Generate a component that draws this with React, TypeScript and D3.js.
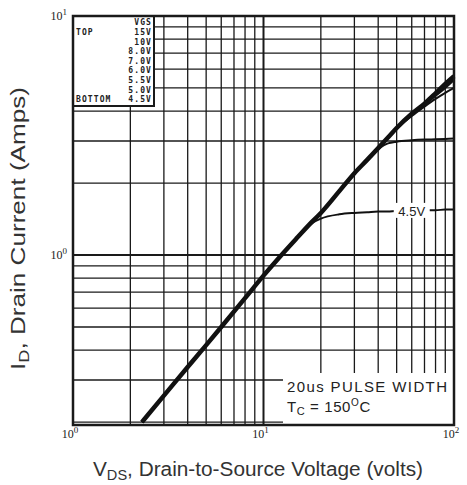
import * as d3 from "d3"
import React from "react"

// drain-source voltage sample points (volts)
const vds = [2.3, 3, 4, 5, 6, 8, 10, 12, 15, 18, 20, 25, 30, 35, 40, 45, 50, 60, 70, 80, 90, 100]

// drain current (amps) per gate voltage
const id15 = [0.2, 0.258, 0.34, 0.42, 0.5, 0.66, 0.82, 0.97, 1.18, 1.38, 1.5, 1.85, 2.2, 2.5, 2.8, 3.1, 3.4, 3.9, 4.3, 4.75, 5.2, 5.6]
const id10 = [0.2, 0.258, 0.34, 0.42, 0.5, 0.66, 0.82, 0.97, 1.18, 1.38, 1.5, 1.85, 2.2, 2.5, 2.8, 3.1, 3.4, 3.9, 4.3, 4.72, 5.15, 5.55]
const id8 = [0.2, 0.258, 0.34, 0.42, 0.5, 0.66, 0.82, 0.97, 1.18, 1.38, 1.5, 1.85, 2.2, 2.5, 2.8, 3.1, 3.4, 3.88, 4.28, 4.7, 5.1, 5.5]
const id7 = [0.2, 0.258, 0.34, 0.42, 0.5, 0.66, 0.82, 0.97, 1.18, 1.38, 1.5, 1.85, 2.2, 2.5, 2.8, 3.1, 3.4, 3.87, 4.27, 4.67, 5.05, 5.45]
const id6 = [0.2, 0.258, 0.34, 0.42, 0.5, 0.66, 0.82, 0.97, 1.18, 1.38, 1.5, 1.85, 2.2, 2.5, 2.8, 3.1, 3.4, 3.86, 4.25, 4.63, 5.0, 5.4]
const id55 = [0.2, 0.258, 0.34, 0.42, 0.5, 0.66, 0.82, 0.97, 1.18, 1.38, 1.5, 1.85, 2.2, 2.5, 2.8, 3.1, 3.38, 3.82, 4.18, 4.5, 4.77, 5.0]
const id50 = [0.2, 0.258, 0.34, 0.42, 0.5, 0.66, 0.82, 0.97, 1.18, 1.38, 1.5, 1.85, 2.2, 2.5, 2.78, 2.93, 2.98, 3.02, 3.04, 3.05, 3.06, 3.07]
const id45 = [0.2, 0.258, 0.34, 0.42, 0.5, 0.66, 0.82, 0.97, 1.18, 1.36, 1.42, 1.48, 1.5, 1.51, 1.52, 1.52, 1.53, 1.53, 1.54, 1.54, 1.55, 1.55]

const vgsLabels = ["15V", "10V", "8.0V", "7.0V", "6.0V", "5.5V", "5.0V", "4.5V"]
const series = [id15, id10, id8, id7, id6, id55, id50, id45]

const W = 467
const H = 485
const left = 73, right = 454, top = 16, bottom = 425

export default function App() {
  const x = d3.scaleLog().domain([1, 100]).range([left, right])
  const y = d3.scaleLog().domain([0.1945, 10]).range([bottom, top])

  const line = d3.line<number>()
    .x((d, i) => x(vds[i]))
    .y(d => y(d))
    .curve(d3.curveMonotoneX)

  const xTicks = x.ticks()
  const yTicks = y.ticks().filter(t => t >= 0.2)
  const ink = "#1a1a1a"
  const sans = "Liberation Sans, Arial, sans-serif"

  // label of the 4.5V curve
  const lblX = x(60)
  const lblY = y(1.53)

  return (
    <svg width={W} height={H} style={{ position: "absolute", left: 0, top: 0, background: "#fff" }}>
      {/* grid */}
      {xTicks.map(t => (
        <line key={"gx" + t} x1={x(t)} x2={x(t)} y1={top} y2={bottom}
          stroke={ink} strokeWidth={t === 10 ? 2 : 1.3} />
      ))}
      {yTicks.map(t => (
        <line key={"gy" + t} x1={left} x2={right} y1={y(t)} y2={y(t)}
          stroke={ink} strokeWidth={t === 1 ? 2 : 1.3} />
      ))}

      {/* curves */}
      {series.map((s, i) => (
        <path key={vgsLabels[i]} d={line(s) || ""} fill="none" stroke="#111"
          strokeWidth={i === 0 ? 4.5 : 2} strokeLinejoin="round" />
      ))}

      {/* 4.5V label */}
      <rect x={lblX - 18} y={lblY - 8} width={36} height={15} fill="#fff" />
      <text x={lblX} y={lblY + 5} textAnchor="middle" fontFamily={sans}
        fontSize={13} fill="#222">4.5V</text>

      {/* legend box */}
      <rect x={left} y={top} width={81} height={90} fill="#fff" stroke={ink} strokeWidth={2} />
      <g fontFamily="DejaVu Sans Mono, monospace" fontSize={8} fontWeight="bold" fill="#222" letterSpacing={1.1}>
        <text x={152} y={25} textAnchor="end">VGS</text>
        <text x={76} y={35}>TOP</text>
        <text x={76} y={102}>BOTTOM</text>
        {vgsLabels.map((l, i) => (
          <text key={l} x={152} y={35 + i * 9.6} textAnchor="end">{l}</text>
        ))}
      </g>

      {/* annotation box */}
      <rect x={283} y={373} width={right - 283} height={bottom - 374} fill="#fff" />
      <text x={287} y={392} fontFamily={sans} fontSize={15}
        textLength={160} lengthAdjust="spacing" fill="#222">20us PULSE WIDTH</text>
      <text x={287} y={412} fontFamily={sans} fontSize={15} fill="#222" letterSpacing={0.6}>
        T<tspan fontSize={11} dy={3}>C</tspan><tspan dy={-3}> = 150</tspan><tspan fontSize={10} dy={-6}>O</tspan><tspan dy={6}>C</tspan>
      </text>

      {/* frame */}
      <rect x={left} y={top} width={right - left} height={bottom - top} fill="none" stroke={ink} strokeWidth={2.5} />

      {/* tick labels */}
      <g fontFamily="Liberation Serif, serif" fontSize={12} fill="#222">
        {[1, 10, 100].map((t, i) => (
          <text key={"xl" + t} x={x(t) - 3} y={438} textAnchor="middle">
            10<tspan fontSize={9} dy={-5}>{i}</tspan>
          </text>
        ))}
        {[10, 1].map((t, i) => (
          <text key={"yl" + t} x={67} y={y(t) + 4} textAnchor="end">
            10<tspan fontSize={9} dy={-5}>{1 - i}</tspan>
          </text>
        ))}
      </g>

      {/* axis titles */}
      <text x={93} y={476} fontFamily={sans} fontSize={20} fill="#333"
        textLength={330} lengthAdjust="spacingAndGlyphs">
        V<tspan fontSize={14} dy={4}>DS</tspan><tspan dy={-4}>, Drain-to-Source Voltage (volts)</tspan>
      </text>
      <text transform="translate(25,370) rotate(-90)"
        fontFamily={sans} fontSize={20} fill="#333"
        textLength={283} lengthAdjust="spacingAndGlyphs">
        I<tspan fontSize={14} dy={4}>D</tspan><tspan dy={-4}>, Drain Current (Amps)</tspan>
      </text>
    </svg>
  )
}
